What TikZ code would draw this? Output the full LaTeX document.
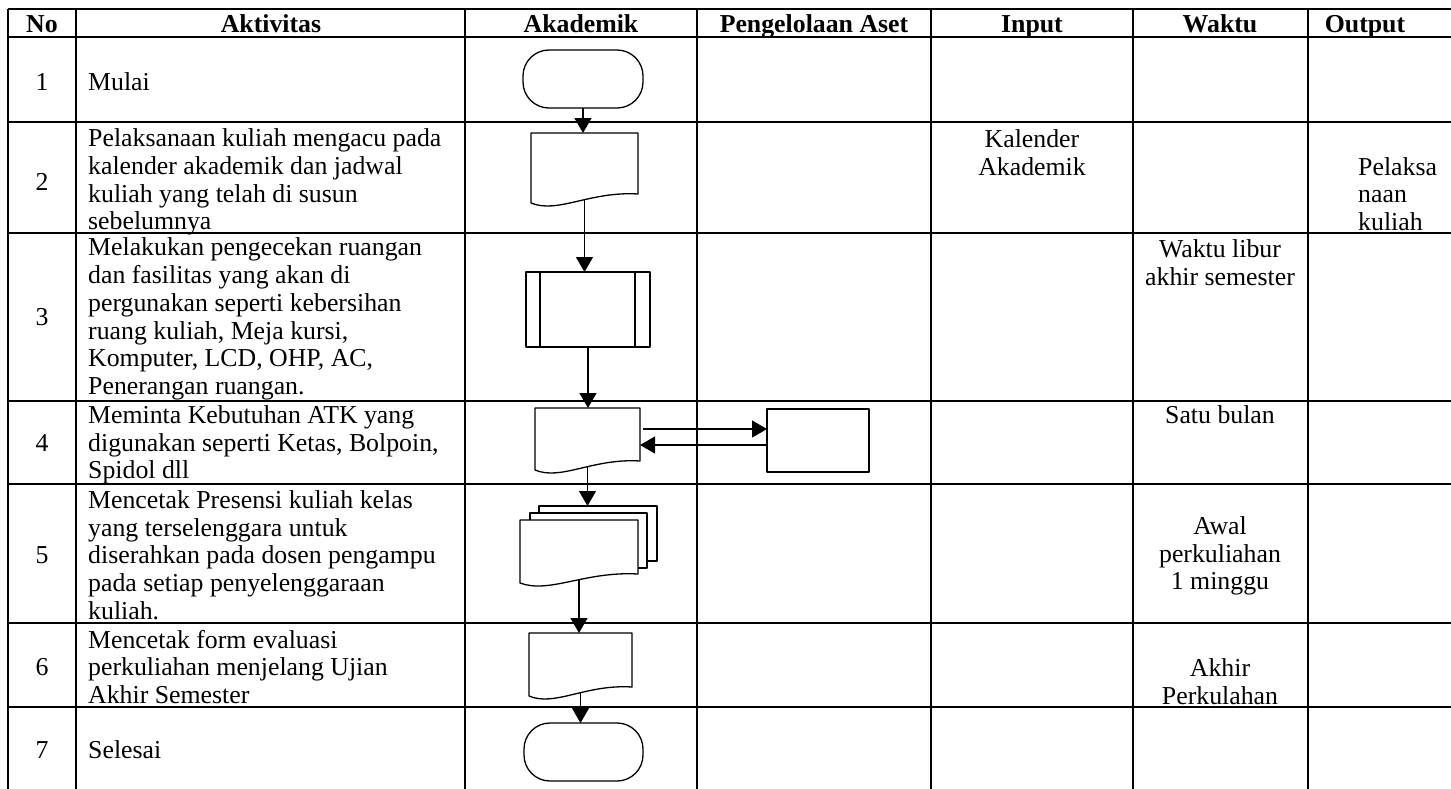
\documentclass[tikz,border=0pt]{standalone}
\usepackage{fontspec}
\setmainfont{Liberation Serif}
\usetikzlibrary{arrows.meta,calc}

% document outline with a wavy bottom edge, drawn round node #1
\newcommand{\dokumen}[1]{%
  \draw[bentuk] (#1.north west) -- (#1.north east) -- (#1.south east)
    .. controls ($(#1.south west)!0.55!(#1.south east)+(0,-3)$) and ($(#1.south west)!0.25!(#1.south east)+(0,20)$)
    .. ($(#1.south west)+(0,9)$) -- cycle;
  \coordinate (#1-bawah) at ($(#1.south)+(0,6)$);
}

\begin{document}
\begin{tikzpicture}[x=1pt,y=-1pt,line join=round,
    tabel/.style={line width=1.8pt},
    dasar/.style={inner sep=0pt,outer sep=0pt},
    bentuk/.style={draw,line width=1.3pt,fill=white,dasar},
    terminal/.style={bentuk,rounded corners=26pt,minimum width=120pt,minimum height=58pt},
    panah/.style={line width=1.3pt,-{Triangle[width=17pt,length=15pt]}},
    teks/.style={font=\fontsize{25.8}{27.7}\selectfont,inner sep=0pt},
    judul/.style={font=\fontsize{25.8}{27.7}\selectfont\bfseries,inner sep=0pt,anchor=base}]
  \useasboundingbox (0,0) rectangle (1451,788);

  % table grid
  \foreach \x in {8,76,465,697,931,1133,1308}
    \draw[tabel] (\x,9) -- (\x,800);
  \foreach \y in {9,37,122,233,401,484,623,707}
    \draw[tabel] (8,\y) -- (1460,\y);

  % header
  \node[judul] (hNo) at (42,32) {No};
  \node[judul] (hAkt) at (271,32) {Aktivitas};
  \node[judul] (hAkd) at (581,32) {Akademik};
  \node[judul] (hAset) at (814,32) {Pengelolaan Aset};
  \node[judul] (hIn) at (1032,32) {Input};
  \node[judul] (hWkt) at (1220,32) {Waktu};
  \node[judul] (hOut) at (1365,32) {Output};

  % row numbers
  \foreach \n/\y in {1/82,2/182,3/317,4/443,5/555,6/667,7/750}
    \node[teks] (no\n) at (42,\y) {\n};

  % activities
  \node[teks,anchor=west,align=left] (akt1) at (88,82) {Mulai};
  \node[teks,anchor=west,align=left] (akt2) at (88,182) {Pelaksanaan kuliah mengacu pada\\kalender akademik dan jadwal\\kuliah yang telah di susun\\sebelumnya};
  \node[teks,anchor=west,align=left] (akt3) at (88,319) {Melakukan pengecekan ruangan\\dan fasilitas yang akan di\\pergunakan seperti kebersihan\\ruang kuliah, Meja kursi,\\Komputer, LCD, OHP, AC,\\Penerangan ruangan.};
  \node[teks,anchor=west,align=left] (akt4) at (88,445) {Meminta Kebutuhan ATK yang\\digunakan seperti Ketas, Bolpoin,\\Spidol dll};
  \node[teks,anchor=west,align=left] (akt5) at (88,555) {Mencetak Presensi kuliah kelas\\yang terselenggara untuk\\diserahkan pada dosen pengampu\\pada setiap penyelenggaraan\\kuliah.};
  \node[teks,anchor=west,align=left] (akt6) at (88,667) {Mencetak form evaluasi\\perkuliahan menjelang Ujian\\Akhir Semester};
  \node[teks,anchor=west,align=left] (akt7) at (88,750) {Selesai};

  % input, waktu, output
  \node[teks,align=center] (in2) at (1032,153) {Kalender\\Akademik};
  \node[teks,anchor=west,align=left] (out2) at (1358,194) {Pelaksa\\naan\\kuliah};
  \node[teks,align=center] (wkt3) at (1220,263) {Waktu libur\\akhir semester};
  \node[teks,align=center] (wkt4) at (1220,415) {Satu bulan};
  \node[teks,align=center] (wkt5) at (1220,556) {Awal\\perkuliahan\\1 minggu};
  \node[teks,align=center] (wkt6) at (1220,682) {Akhir\\Perkulahan};

  % flow symbols
  \node[terminal] (mulai) at (583,79) {};
  \node[dasar,minimum width=107pt,minimum height=61pt] (dok2) at (584.5,163.5) {};
  \dokumen{dok2}
  \node[bentuk,minimum width=124pt,minimum height=75pt] (proses3) at (588,309.5) {};
  \draw[bentuk] ([xshift=14pt]proses3.north west) -- ([xshift=14pt]proses3.south west);
  \draw[bentuk] ([xshift=-15pt]proses3.north east) -- ([xshift=-15pt]proses3.south east);
  \node[dasar,minimum width=105pt,minimum height=53pt] (dok4) at (587.5,434.5) {};
  \dokumen{dok4}
  \node[bentuk,minimum width=102pt,minimum height=63pt] (aset4) at (818,440.5) {};
  \node[bentuk,minimum width=118pt,minimum height=55pt] (lembar5c) at (598,533.5) {};
  \node[bentuk,minimum width=117pt,minimum height=55pt] (lembar5b) at (588.5,540.5) {};
  \node[dasar,minimum width=118pt,minimum height=54pt] (dok5) at (579,547) {};
  \dokumen{dok5}
  \node[dasar,minimum width=103pt,minimum height=54pt] (dok6) at (580.5,660) {};
  \dokumen{dok6}
  \node[terminal,minimum width=119pt] (selesai) at (583.5,752) {};

  % connectors
  \draw[panah] (mulai.south) -- (mulai.south |- dok2.north);
  \draw[panah] (dok2-bawah) -- (dok2-bawah |- proses3.north);
  \draw[panah] (proses3.south) -- (proses3.south |- dok4.north);
  \draw[panah] ([yshift=5.5pt,xshift=3pt]dok4.east) -- ([yshift=5.5pt]dok4.east -| aset4.west);
  \draw[panah] ([yshift=-4.5pt]aset4.west) -- ([yshift=-4.5pt]aset4.west -| dok4.east);
  \draw[panah] (dok4-bawah) -- (dok4-bawah |- lembar5c.north);
  \draw[panah] (dok5-bawah) -- (dok5-bawah |- dok6.north);
  \draw[panah] (dok6-bawah) -- (dok6-bawah |- selesai.north);
\end{tikzpicture}
\end{document}
